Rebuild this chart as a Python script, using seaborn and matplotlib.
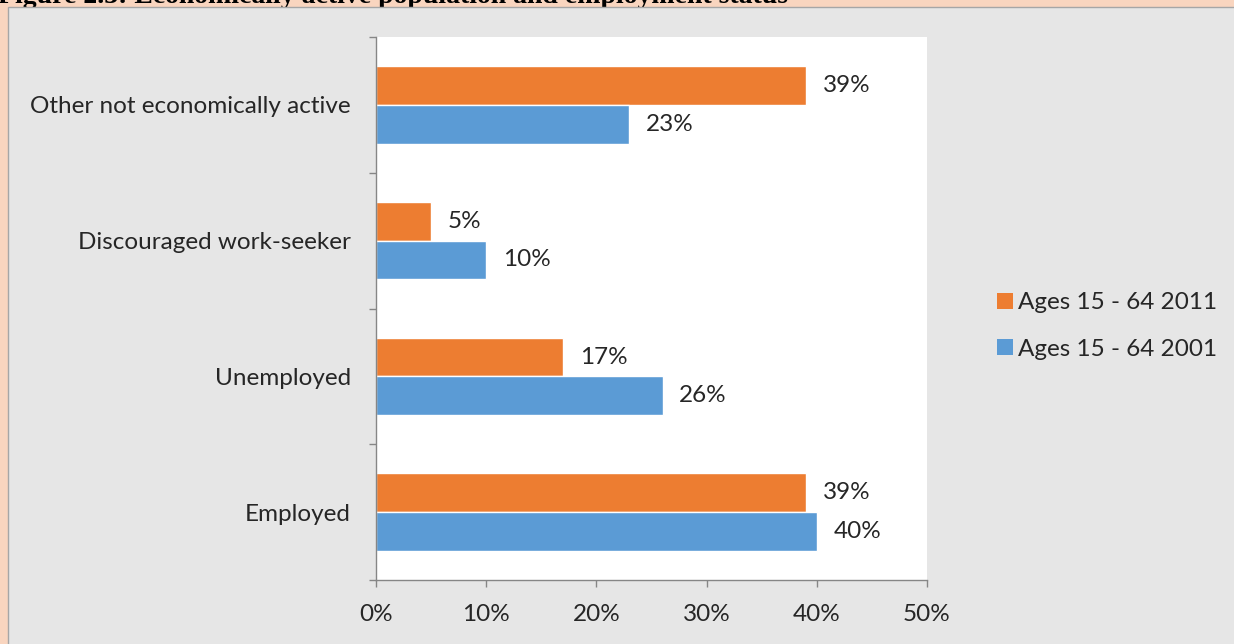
import matplotlib
matplotlib.use("Agg")
import matplotlib.pyplot as plt
import matplotlib.patches as mpatches
from matplotlib.ticker import FixedLocator
import pandas as pd
import seaborn as sns

categories = ["Other not economically active", "Discouraged work-seeker", "Unemployed", "Employed"]
series_names = ["Ages 15 - 64 2011", "Ages 15 - 64 2001"]
values_2011 = [39, 5, 17, 39]
values_2001 = [23, 10, 26, 40]
x_ticks = [0, 10, 20, 30, 40, 50]
x_tick_labels = ["0%", "10%", "20%", "30%", "40%", "50%"]
title_text = "Figure 2.3: Economically active population and employment status"

colors = ["#ED7D31", "#5B9BD5"]

df = pd.DataFrame({
    "status": categories * 2,
    "value": values_2011 + values_2001,
    "series": [series_names[0]] * len(categories) + [series_names[1]] * len(categories),
})

sns.set_theme(style="white")
plt.rcParams["font.family"] = ["Lato", "DejaVu Sans"]

FS = 17.5
W, H = 1234, 644
fig = plt.figure(figsize=(W / 100, H / 100), dpi=100)
fig.patch.set_facecolor("#F9D5BF")

# page title (cut off at the top of the screenshot)
fig.text(-2 / W, 1 - 3 / H, title_text, family=["Liberation Serif"], fontweight="bold",
         fontsize=20, color="black", ha="left", va="baseline", zorder=-3)
# grey chart area box
fig.patches.append(mpatches.Rectangle((8 / W, -0.01), 1.0, 1 - 7 / H + 0.01, transform=fig.transFigure,
                                      facecolor="#E6E6E6", edgecolor="#A6A6A6", linewidth=1.0,
                                      zorder=-2, figure=fig))

ax = fig.add_axes([376 / W, 1 - 580 / H, 551 / W, 543 / H])
ax.set_facecolor("white")

sns.barplot(data=df, y="status", x="value", hue="series", order=categories,
            hue_order=series_names, palette=colors, orient="h", width=0.57,
            saturation=1, legend=False, ax=ax)

for cont in ax.containers:
    ax.bar_label(cont, labels=[f"{v:.0f}%" for v in cont.datavalues], padding=12,
                 fontsize=FS, color="#262626")

ax.set_xlim(0, 50)
ax.set_ylim(3.5, -0.5)
ax.set_xticks(x_ticks)
ax.set_xticklabels(x_tick_labels)
ax.set_xlabel("")
ax.set_ylabel("")

for s in ["top", "right"]:
    ax.spines[s].set_visible(False)
for s in ["left", "bottom"]:
    ax.spines[s].set_color("#868686")
    ax.spines[s].set_linewidth(1.0)

ax.tick_params(axis="x", which="major", direction="out", length=5, width=1, color="#868686",
               pad=12, labelsize=FS, labelcolor="#262626", bottom=True)
ax.tick_params(axis="y", which="major", length=0, pad=18, labelsize=FS, labelcolor="#262626", left=True)
ax.yaxis.set_minor_locator(FixedLocator([-0.5, 0.5, 1.5, 2.5, 3.5]))
ax.tick_params(axis="y", which="minor", direction="out", length=5, width=1, color="#868686", left=True)

handles = [mpatches.Patch(facecolor=c, edgecolor="none") for c in colors]
fig.legend(handles, series_names, loc="center left", bbox_to_anchor=(975 / W, 1 - 326 / H),
           frameon=False, fontsize=FS, handlelength=0.65, handleheight=0.65, handletextpad=0.2,
           labelspacing=1.05, labelcolor="#262626")

fig.savefig("out.png", dpi=100, facecolor=fig.get_facecolor())
